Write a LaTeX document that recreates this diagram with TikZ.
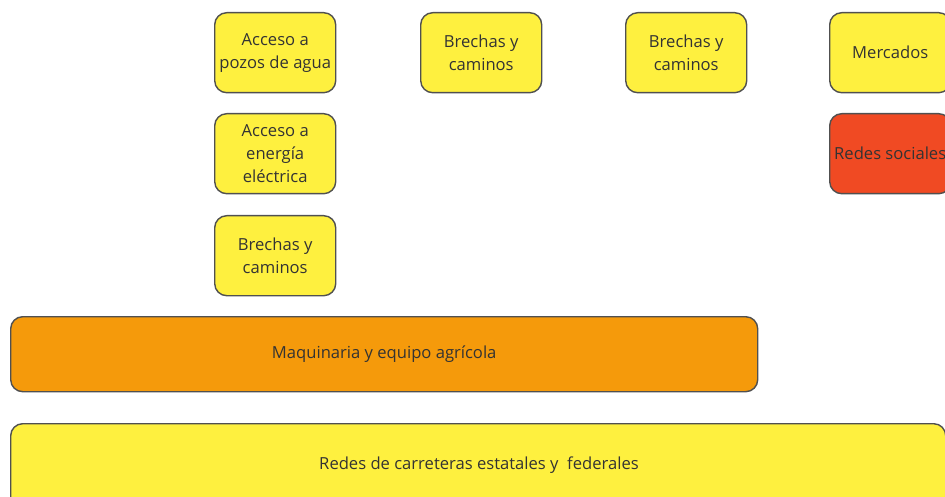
\documentclass[tikz,border=0pt]{standalone}
\usepackage{fontspec}
\setmainfont{Open Sans}
\definecolor{boxyellow}{HTML}{FEF03F}
\definecolor{boxorange}{HTML}{F59A0B}
\definecolor{boxred}{HTML}{F04A23}
\definecolor{boxline}{HTML}{505050}
\definecolor{txt}{HTML}{333333}
\begin{document}
\begin{tikzpicture}[x=1pt,y=-1pt,
  box/.style={draw=boxline, line width=1.4pt, rounded corners=12pt, align=center,
    font=\fontsize{16.6}{23}\selectfont, text=txt, inner sep=0pt, anchor=north west},
  small/.style={box, minimum width=121pt, minimum height=80pt},
]
\useasboundingbox (0,0) rectangle (945,497);
\begin{scope}
\clip (0,0) rectangle (945,497);
\node[small, fill=boxyellow] (pozos) at (214,12) {Acceso a\\pozos de agua};
\node[small, fill=boxyellow] (brechasA) at (420,12) {Brechas y\\caminos};
\node[small, fill=boxyellow] (brechasB) at (625,12) {Brechas y\\caminos};
\node[small, fill=boxyellow] (mercados) at (829,12) {Mercados};
\node[small, fill=boxyellow] (energia) at (214,113) {Acceso a\\energía\\eléctrica};
\node[small, fill=boxred] (redes) at (829,113) {Redes sociales};
\node[small, fill=boxyellow] (brechasC) at (214,215) {Brechas y\\caminos};
\node[box, fill=boxorange, minimum width=747pt, minimum height=75pt] (maq) at (10,316) {Maquinaria y equipo agrícola};
\node[box, fill=boxyellow, minimum width=935pt, minimum height=90pt] (carr) at (10,423) {};
\node[font=\fontsize{16.6}{23}\selectfont, text=txt] (carrt) at (479,465) {Redes de carreteras estatales y\ \ federales};
\end{scope}
\end{tikzpicture}
\end{document}
